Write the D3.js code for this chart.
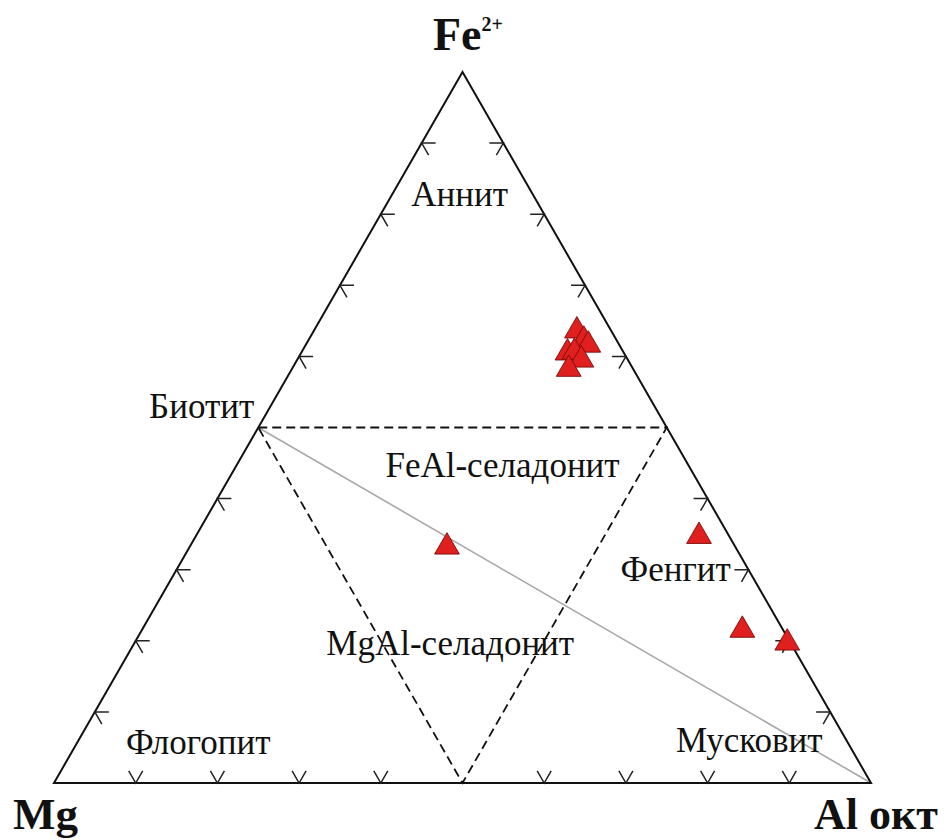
<!DOCTYPE html>
<html><head><meta charset="utf-8">
<script src="https://cdn.jsdelivr.net/npm/d3@7"></script>
<style>body{margin:0;background:#fff}svg{display:block}</style>
</head><body>
<script>
// Data: ternary compositions [Fe2+, Mg, Al(oct)]
const vertexLabels = ["Fe", "Mg", "Al окт"];
const ptsFe = [0.636, 0.623, 0.616, 0.605, 0.606, 0.595, 0.582, 0.332, 0.347, 0.215, 0.197];
const ptsMg = [0.042, 0.040, 0.038, 0.069, 0.060, 0.057, 0.079, 0.353, 0.037, 0.050, 0.004];
const ptsAl = [0.322, 0.337, 0.346, 0.326, 0.334, 0.348, 0.339, 0.315, 0.616, 0.735, 0.799];
const tickFracs = [0.1, 0.2, 0.3, 0.4, 0.6, 0.7, 0.8, 0.9];
const regionNames = ["Аннит", "Биотит", "FeAl-селадонит", "Фенгит", "MgAl-селадонит", "Флогопит", "Мусковит"];
// region label anchor compositions [Fe, Al]
const regionFe = [0.811, 0.513, 0.430, 0.284, 0.180, 0.041, 0.044];
const regionAl = [0.091, 0.0, 0.334, 0.619, 0.395, 0.156, 0.829];

const W = 951, H = 840;
const svg = d3.select("body").append("svg").attr("width", W).attr("height", H);
const sx = d3.scaleLinear().domain([0, 1]).range([54, 871]);
const sy = d3.scaleLinear().domain([0, Math.sqrt(3) / 2]).range([783, 72]);
function proj(fe, al) { return [sx(al + fe / 2), sy(fe * Math.sqrt(3) / 2)]; }

const T = proj(1, 0), L = proj(0, 0), R = proj(0, 1);
const mL = proj(0.5, 0), mR = proj(0.5, 0.5), mB = proj(0, 0.5);

// grey line Biotite -> Al
svg.append("line").attr("x1", mL[0]).attr("y1", mL[1]).attr("x2", R[0]).attr("y2", R[1])
  .attr("stroke", "#a8a8a8").attr("stroke-width", 1.6);

// dashed inner triangle
svg.append("path").attr("d", d3.line()([mL, mR, mB, mL]))
  .attr("fill", "none").attr("stroke", "#111").attr("stroke-width", 1.8)
  .attr("stroke-dasharray", "9,5");

// outer triangle
svg.append("path").attr("d", d3.line()([T, L, R]) + "Z")
  .attr("fill", "none").attr("stroke", "#111").attr("stroke-width", 2).attr("stroke-linejoin", "miter");

// ticks: outward arrowheads, arms toward inside
const armLen = 14;
function tick(p, normalDeg) {
  const a1 = (normalDeg - 30) * Math.PI / 180, a2 = (normalDeg + 30) * Math.PI / 180;
  const q1 = [p[0] + armLen * Math.cos(a1), p[1] - armLen * Math.sin(a1)];
  const q2 = [p[0] + armLen * Math.cos(a2), p[1] - armLen * Math.sin(a2)];
  svg.append("path").attr("d", d3.line()([q1, p, q2])).attr("fill", "none")
    .attr("stroke", "#222").attr("stroke-width", 1.5);
}
tickFracs.forEach(f => {
  tick(proj(f, 0), -30);        // left edge
  tick(proj(0, f), 90);         // bottom edge
  tick(proj(f, 1 - f), 210);    // right edge
});

// region labels
const serif = "'Liberation Serif','Times New Roman',serif";
const anchors = ["middle", "end", "middle", "middle", "middle", "middle", "middle"];
regionNames.forEach((n, i) => {
  let p = proj(regionFe[i], regionAl[i]);
  if (i === 1) p = [mL[0] - 4, p[1]];
  svg.append("text").attr("x", p[0]).attr("y", p[1]).attr("text-anchor", anchors[i])
    .attr("font-family", serif).attr("font-size", 35).attr("fill", "#111").text(n);
});

// data markers
const sym = d3.symbol().type(d3.symbolTriangle).size(265);
ptsFe.forEach((fe, i) => {
  const p = proj(fe, ptsAl[i]);
  svg.append("path").attr("d", sym()).attr("transform", `translate(${p[0]},${p[1]})`)
    .attr("fill", "#e01f1f").attr("stroke", "#7a0a0a").attr("stroke-width", 0.9);
});

// vertex labels
const fe = svg.append("text").attr("x", 433).attr("y", 50).attr("font-family", serif)
  .attr("font-weight", "bold").attr("font-size", 46).attr("fill", "#111");
fe.append("tspan").text(vertexLabels[0]);
fe.append("tspan").attr("font-size", 20).attr("dy", -19).text("2+");
svg.append("text").attr("x", 13).attr("y", 829).attr("font-family", serif)
  .attr("font-weight", "bold").attr("font-size", 45).attr("fill", "#111").text(vertexLabels[1]);
svg.append("text").attr("x", 814).attr("y", 829).attr("font-family", serif)
  .attr("font-weight", "bold").attr("font-size", 44).attr("fill", "#111").text(vertexLabels[2]);
</script>
</body></html>
